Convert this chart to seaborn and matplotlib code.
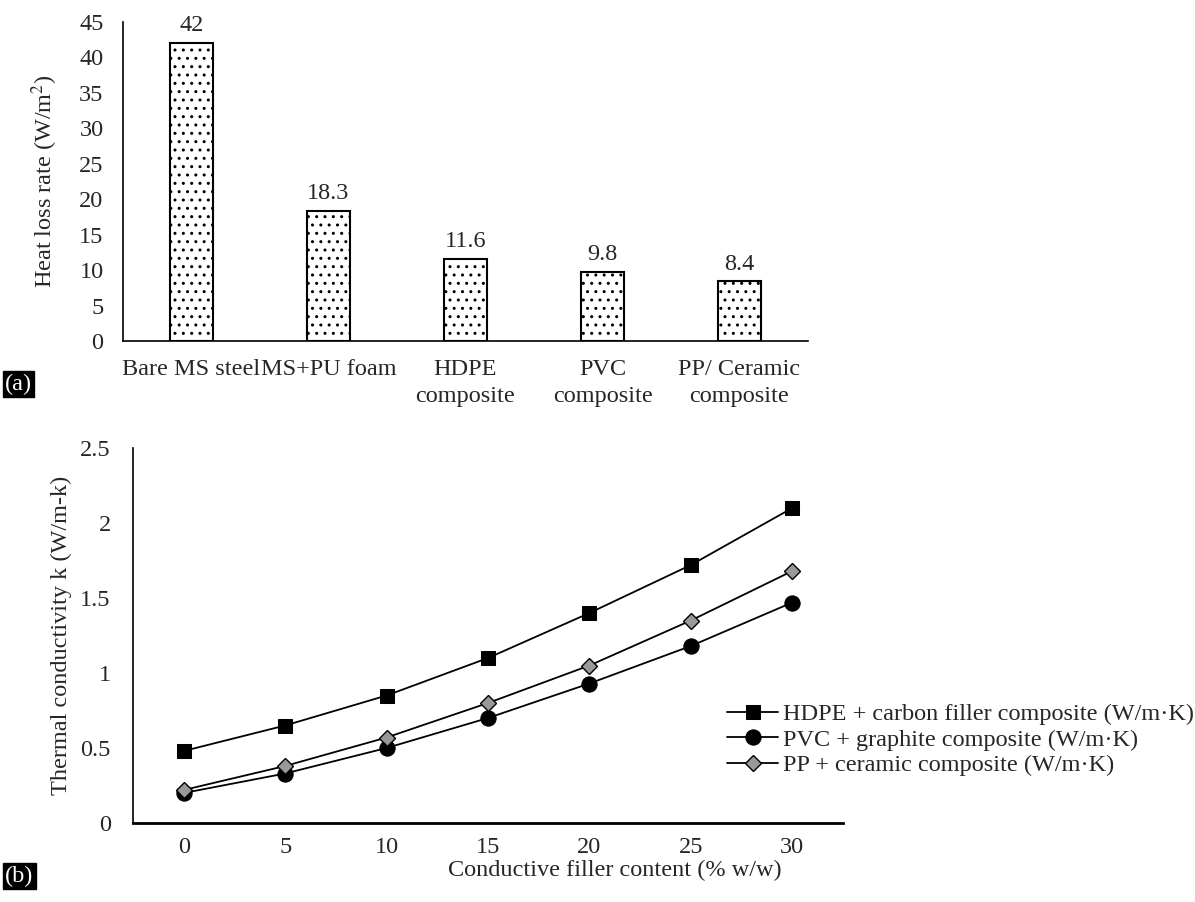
import matplotlib
matplotlib.use("Agg")
import matplotlib.pyplot as plt
import seaborn as sns
import pandas as pd

# Panel (a): heat loss by pipe / insulation type
materials = ["Bare MS steel", "MS+PU foam", "HDPE\ncomposite", "PVC\ncomposite", "PP/ Ceramic\ncomposite"]
heat_loss = [42, 18.3, 11.6, 9.8, 8.4]

# Panel (b): thermal conductivity vs conductive filler content
filler_content = [0, 5, 10, 15, 20, 25, 30]
k_hdpe_carbon = [0.48, 0.65, 0.85, 1.10, 1.40, 1.72, 2.10]
k_pvc_graphite = [0.20, 0.33, 0.50, 0.70, 0.93, 1.18, 1.47]
k_pp_ceramic = [0.22, 0.38, 0.57, 0.80, 1.05, 1.35, 1.68]

series_labels = [
    "HDPE + carbon filler composite (W/m·K)",
    "PVC + graphite composite (W/m·K)",
    "PP + ceramic composite (W/m·K)",
]

sns.set_theme(style="white")
plt.rcParams["font.family"] = ["Liberation Serif", "DejaVu Serif"]
plt.rcParams["mathtext.fontset"] = "stix"
plt.rcParams["hatch.linewidth"] = 1.0
plt.rcParams["hatch.color"] = "black"
FS = 17.5

fig = plt.figure(figsize=(11.95, 9.02), dpi=100)
W, H = 1195, 902

def axes_px(left, top, right, bottom):
    return fig.add_axes([left / W, 1 - bottom / H, (right - left) / W, (bottom - top) / H])

# ---------- (a) bar chart ----------
ax1 = axes_px(123, 22, 808, 341)
df_a = pd.DataFrame({"material": materials, "heat_loss": heat_loss})
sns.barplot(data=df_a, x="material", y="heat_loss", ax=ax1, width=0.31,
            color="white", edgecolor="black", linewidth=1.5, hatch="..",
            saturation=1)
ax1.bar_label(ax1.containers[0], labels=[f"{v:g}" for v in heat_loss],
              padding=5, fontsize=FS)
ax1.set_ylim(0, 45)
ax1.set_yticks(range(0, 46, 5))
ax1.set_xlim(-0.5, len(materials) - 0.5)
ax1.set_xlabel("")
ax1.set_ylabel("Heat loss rate (W/m$^2$)", fontsize=FS, labelpad=14)
ax1.tick_params(axis="both", length=0, labelsize=FS)
ax1.tick_params(axis="y", pad=14)
ax1.tick_params(axis="x", pad=13)
for lbl in ax1.get_xticklabels():
    lbl.set_linespacing(1.35)
    lbl.set_verticalalignment("top")
for side in ["top", "right"]:
    ax1.spines[side].set_visible(False)
for side in ["left", "bottom"]:
    ax1.spines[side].set_color("black")
    ax1.spines[side].set_linewidth(1.2)

# ---------- (b) line chart ----------
ax2 = axes_px(133, 448, 843, 823)
styles = [
    dict(marker="s", markersize=10.5, markerfacecolor="black", markeredgecolor="black"),
    dict(marker="o", markersize=11, markerfacecolor="black", markeredgecolor="black"),
    dict(marker="D", markersize=8.5, markerfacecolor="#999999", markeredgecolor="black",
         markeredgewidth=1.0),
]
for yvals, lab, st in zip([k_hdpe_carbon, k_pvc_graphite, k_pp_ceramic], series_labels, styles):
    sns.lineplot(x=filler_content, y=yvals, ax=ax2, color="black", linewidth=1.3,
                 label=lab, legend=False, **st)
ax2.set_xlim(-2.5, 32.5)
ax2.set_xticks(filler_content)
ax2.set_ylim(0, 2.5)
ax2.set_yticks([0, 0.5, 1, 1.5, 2, 2.5])
ax2.set_yticklabels(["0", "0.5", "1", "1.5", "2", "2.5"])
ax2.set_ylabel("Thermal conductivity k (W/m-k)", fontsize=FS, labelpad=6)
ax2.set_xlabel("")
ax2.tick_params(axis="both", length=0, labelsize=FS)
ax2.tick_params(axis="y", pad=16)
ax2.tick_params(axis="x", pad=10)
for side in ["top", "right"]:
    ax2.spines[side].set_visible(False)
ax2.spines["left"].set_color("black")
ax2.spines["left"].set_linewidth(1.2)
ax2.spines["bottom"].set_color("black")
ax2.spines["bottom"].set_linewidth(2.0)

fig.text(615 / W, 1 - 870 / H, "Conductive filler content (% w/w)", fontsize=FS,
         ha="center", va="center")

handles, labels = ax2.get_legend_handles_labels()
fig.legend(handles, labels, loc="upper left", bbox_to_anchor=(727 / W, 1 - 703 / H),
           frameon=False, fontsize=FS, handlelength=2.1, handletextpad=0.2,
           labelspacing=0.15, borderpad=0, borderaxespad=0)

# panel tags
for tag, (px, py) in {"(a)": (5, 384), "(b)": (5, 876)}.items():
    fig.text(px / W, 1 - py / H, tag, fontsize=FS, color="white", ha="left", va="center",
             bbox=dict(facecolor="black", edgecolor="black", pad=1.5))

fig.savefig("out.png", dpi=100, facecolor="white")
